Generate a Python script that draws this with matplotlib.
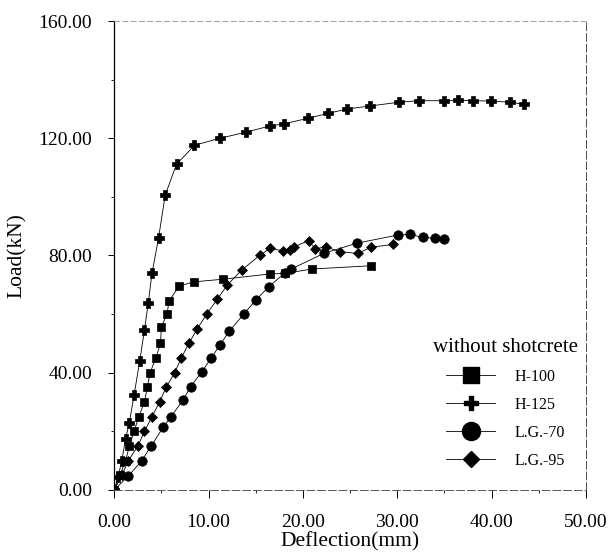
import matplotlib
matplotlib.use("Agg")
import matplotlib.pyplot as plt
from matplotlib.lines import Line2D
from matplotlib.ticker import MultipleLocator, FormatStrFormatter

plt.rcParams['font.family'] = ['Liberation Serif', 'DejaVu Serif']

# data: deflection (mm), load (kN)
h100_x = [0.0, 0.6, 1.2, 1.6, 2.1, 2.6, 3.2, 3.5, 3.8, 4.4, 4.9, 5.0, 5.6, 5.8,
          6.9, 8.4, 11.5, 16.5, 18.1, 21.0, 27.2]
h100_y = [0.0, 5.0, 10.0, 15.0, 20.0, 25.0, 30.0, 35.0, 40.0, 45.0, 50.0, 55.7,
          60.0, 64.5, 69.6, 71.0, 71.9, 73.7, 73.9, 75.4, 76.5]

h125_x = [0.0, 0.4, 0.8, 1.2, 1.6, 2.1, 2.7, 3.2, 3.6, 4.0, 4.7, 5.4, 6.6, 8.5,
          11.2, 14.0, 16.5, 18.0, 20.5, 22.7, 24.7, 27.1, 30.2, 32.3, 35.0,
          36.4, 38.0, 39.9, 41.9, 43.4]
h125_y = [0.0, 4.5, 10.0, 17.4, 23.0, 32.4, 44.0, 54.6, 63.7, 73.9, 86.1, 100.6,
          111.1, 117.6, 120.0, 122.1, 124.2, 124.9, 126.8, 128.5, 130.0, 131.0,
          132.3, 132.8, 132.8, 133.0, 132.8, 132.7, 132.3, 131.6]

lg70_x = [0.0, 1.5, 2.9, 3.9, 5.2, 6.0, 7.3, 8.1, 9.3, 10.3, 11.2, 12.2, 13.7,
          15.0, 16.4, 18.1, 18.7, 22.2, 25.7, 30.1, 31.3, 32.7, 34.0, 35.0]
lg70_y = [0.0, 4.8, 9.9, 15.0, 21.4, 25.0, 30.7, 35.3, 40.4, 45.1, 49.5, 54.2,
          59.9, 64.8, 69.4, 74.1, 75.3, 80.7, 84.2, 87.0, 87.2, 86.2, 85.9, 85.6]

lg95_x = [0.0, 0.8, 1.5, 2.5, 3.2, 4.0, 4.8, 5.5, 6.4, 7.1, 7.9, 8.8, 9.8, 10.9,
          12.0, 13.5, 15.4, 16.5, 17.9, 18.6, 19.1, 20.6, 21.3, 22.4, 23.9,
          25.8, 27.2, 29.6]
lg95_y = [0.0, 5.0, 10.0, 15.0, 20.0, 25.0, 30.0, 35.0, 40.0, 45.0, 50.0, 55.0,
          60.0, 65.0, 70.0, 75.0, 80.0, 82.4, 81.6, 82.0, 83.0, 85.1, 82.2, 83.0,
          81.3, 80.7, 82.8, 83.8]

series = [
    ("H-100", h100_x, h100_y, 's', 6.0, 11),
    ("H-125", h125_x, h125_y, 'P', 7.0, 10),
    ("L.G.-70", lg70_x, lg70_y, 'o', 6.8, 13),
    ("L.G.-95", lg95_x, lg95_y, 'D', 4.8, 8.5),
]

fig = plt.figure(figsize=(6.11, 5.60), dpi=100)
ax = fig.add_axes([0.187, 0.125, 0.772, 0.8375])

handles = []
for name, xs, ys, mk, ms, lms in series:
    ax.plot(xs, ys, color='black', lw=0.6, marker=mk, ms=ms,
            mfc='black', mec='black', mew=0.5)
    handles.append(Line2D([], [], color='black', lw=0.6, marker=mk, ms=lms,
                          mfc='black', mec='black'))

ax.set_xlim(0, 50)
ax.set_ylim(0, 160)
ax.xaxis.set_major_locator(MultipleLocator(10))
ax.xaxis.set_minor_locator(MultipleLocator(5))
ax.yaxis.set_major_locator(MultipleLocator(40))
ax.yaxis.set_minor_locator(MultipleLocator(20))
ax.xaxis.set_major_formatter(FormatStrFormatter('%.2f'))
ax.yaxis.set_major_formatter(FormatStrFormatter('%.2f'))

ax.tick_params(axis='x', which='major', direction='out', length=6, width=0.7,
               pad=11, labelsize=14)
ax.tick_params(axis='x', which='minor', direction='out', length=2.5, width=0.6)
ax.tick_params(axis='y', which='major', direction='out', length=4, width=0.7,
               pad=12, labelsize=14)
ax.tick_params(axis='y', which='minor', direction='out', length=2.5, width=0.6)

ax.spines['left'].set_linewidth(0.9)
ax.spines['bottom'].set_linestyle((0, (8, 3)))
ax.spines['bottom'].set_color('0.35')
ax.spines['bottom'].set_linewidth(0.7)
ax.spines['top'].set_linestyle((0, (6, 4)))
ax.spines['top'].set_color('0.55')
ax.spines['top'].set_linewidth(0.6)
ax.spines['right'].set_linestyle((0, (8, 3)))
ax.spines['right'].set_color('0.3')
ax.spines['right'].set_linewidth(0.7)

ax.set_xlabel("Deflection(mm)", fontsize=15.5, labelpad=1)
ax.set_ylabel("Load(kN)", fontsize=15.5, labelpad=8)

leg = ax.legend(handles, [s[0] for s in series], title="without shotcrete",
                loc='upper left', bbox_to_anchor=(433 / 611, 1 - 338 / 560),
                bbox_transform=fig.transFigure, frameon=False, fontsize=11.5,
                title_fontsize=15, handlelength=3.1, handletextpad=1.2,
                labelspacing=0.75, borderpad=0, borderaxespad=0)

fig.savefig("out.png", dpi=100)
